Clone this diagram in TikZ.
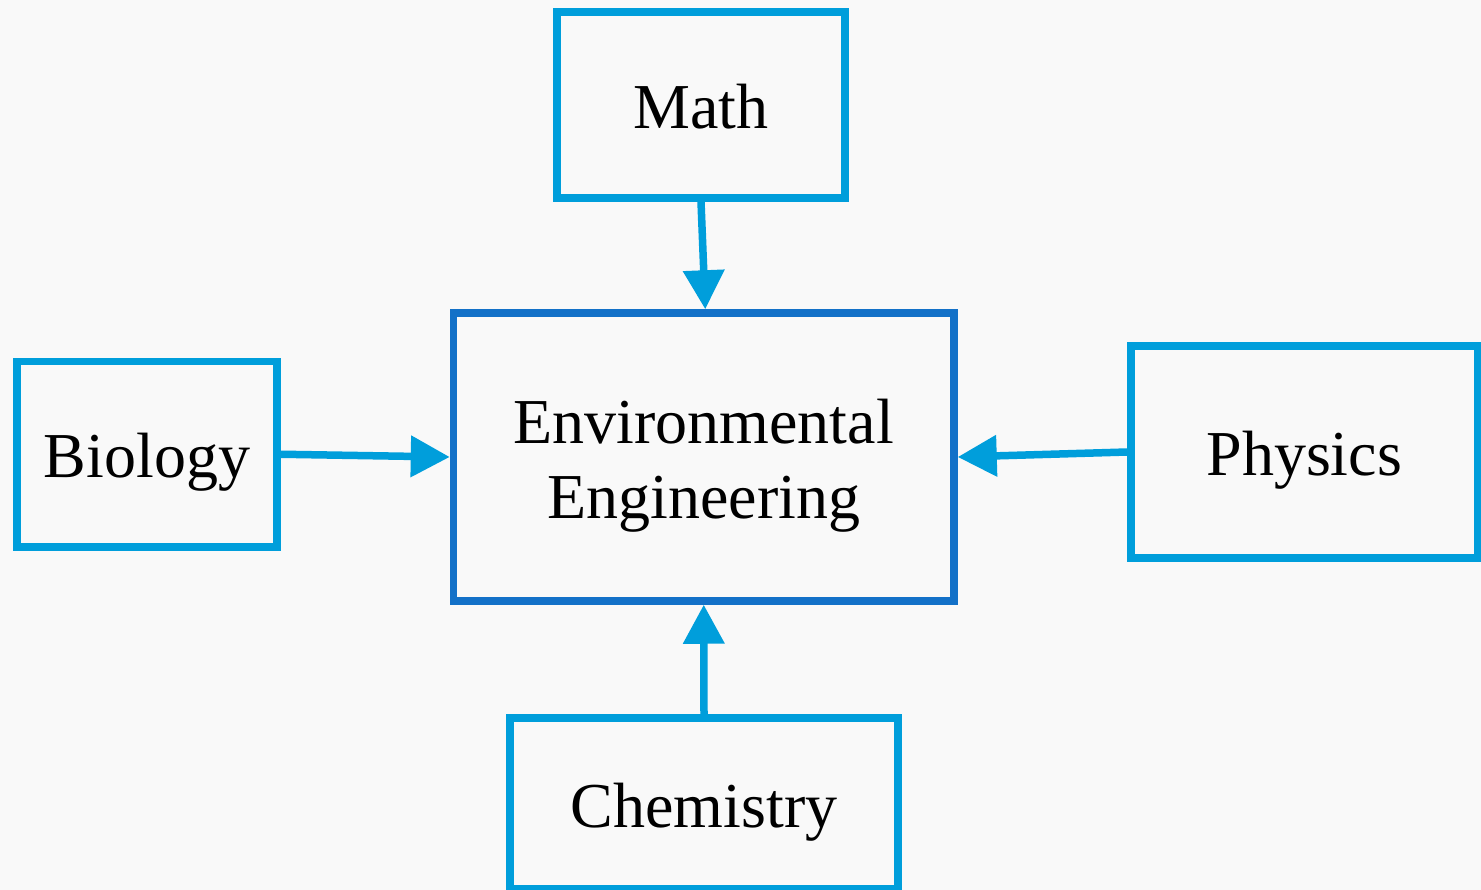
\documentclass[tikz,border=0pt]{standalone}
\usepackage{fontspec}
\setmainfont{Liberation Serif}
\usetikzlibrary{arrows.meta}
\definecolor{sky}{RGB}{0,158,219}
\definecolor{deep}{RGB}{19,113,200}
\definecolor{bg}{RGB}{249,249,249}
\tikzset{
  box/.style={draw=sky, line width=7.5pt, inner sep=0pt, text height=47pt, text depth=0pt,
    font=\fontsize{64}{75}\selectfont},
  mainbox/.style={draw=deep, line width=7.5pt, inner sep=0pt},
  link/.style={draw=sky, line width=7.5pt, -{Triangle[width=40pt,length=39pt]}},
}
\begin{document}
\begin{tikzpicture}[x=1pt,y=-1pt]
\fill[bg] (0,0) rectangle (1481,890);
\useasboundingbox (0,0) rectangle (1481,890);
\node[box, minimum width=288pt, minimum height=186pt] (math) at (701,105) {Math};
\node[mainbox, minimum width=500.5pt, minimum height=288pt] (env) at (703.75,457) {};
\node[align=center, font=\fontsize{64}{75}\selectfont, inner sep=0pt] (envtext) at (703.75,465.5) {Environmental\\Engineering};
\node[box, minimum width=260pt, minimum height=185.5pt] (bio) at (147,454.25) {Biology};
\node[box, minimum width=346.5pt, minimum height=212pt] (phys) at (1304.25,452) {Physics};
\node[box, minimum width=388pt, minimum height=171pt] (chem) at (704,803.5) {Chemistry};
\draw[link] (math.south) -- ([xshift=1.5pt]env.north);
\draw[link] (bio.east) -- (env.west);
\draw[link] (phys.west) -- (env.east);
\draw[link] (chem.north) -- (env.south);
\end{tikzpicture}
\end{document}
